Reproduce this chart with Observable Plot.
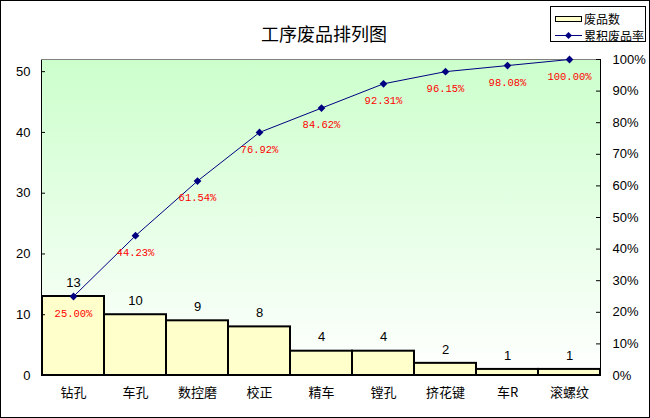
<!DOCTYPE html>
<html><head><meta charset="utf-8">
<script src="https://cdn.jsdelivr.net/npm/d3@7"></script>
<script src="https://cdn.jsdelivr.net/npm/@observablehq/plot@0.6"></script>
<style>
body{margin:0;background:#fff}
#wrap{position:relative;width:650px;height:418px;overflow:hidden;background:#fff}
#border{position:absolute;left:0;top:0;width:650px;height:418px;box-sizing:border-box;border:1px solid #000;pointer-events:none}
#legend{position:absolute;left:550px;top:6px;width:96px;height:36px;box-sizing:border-box;border:1px solid #000;background:#fff;font-family:"Noto Sans CJK SC",sans-serif;font-size:12px;color:#000}
#legend .t{position:absolute;left:33px;height:16px;line-height:16px;white-space:nowrap}
#sw{position:absolute;left:4px;top:9px;width:27px;height:6px;box-sizing:border-box;border:1px solid #000;background:#FFFFCC}
#ln{position:absolute;left:4px;top:28px;width:27px;height:1px;background:#000080}
#dm{position:absolute;left:15px;top:25.5px;width:5px;height:5px;background:#000080;transform:rotate(45deg)}
</style>
</head><body>
<div id="wrap">
  <div id="chart"></div>
  <div id="legend">
    <div id="sw"></div><div class="t" style="top:4px">废品数</div>
    <div id="ln"></div><div id="dm"></div><div class="t" style="top:21px">累积废品率</div>
  </div>
  <div id="border"></div>
</div>
<script>
const title = "工序废品排列图";
const categories = ["钻孔","车孔","数控磨","校正","精车","镗孔","挤花键","车R","滚螺纹"];
const counts = [13,10,9,8,4,4,2,1,1];
const leftTicks = [0,10,20,30,40,50];
const pctTicks = [0,10,20,30,40,50,60,70,80,90,100];

const total = d3.sum(counts);
let run = 0;
const data = categories.map((c,i)=>{ run += counts[i]; return {cat:c, count:counts[i], cum:run, label:(run/total*100).toFixed(2)+"%"}; });
const pctVals = pctTicks.map(p => p/100*total);

function background(index, scales, values, dims) {
  const g = d3.create("svg:g");
  const lg = g.append("defs").append("linearGradient").attr("id","bgGrad")
    .attr("x1",0).attr("y1",0).attr("x2",0).attr("y2",1);
  lg.append("stop").attr("offset","0%").attr("stop-color","#CCFFCC");
  lg.append("stop").attr("offset","100%").attr("stop-color","#FFFFFF");
  g.append("rect").attr("x",dims.marginLeft).attr("y",dims.marginTop)
    .attr("width",dims.width-dims.marginLeft-dims.marginRight)
    .attr("height",dims.height-dims.marginTop-dims.marginBottom)
    .attr("fill","url(#bgGrad)");
  return g.node();
}

const chart = Plot.plot({
  width:650, height:418,
  marginLeft:41, marginRight:50, marginTop:59, marginBottom:43,
  style:{fontFamily:"'Liberation Sans','Noto Sans CJK SC',sans-serif", fontSize:"13px", background:"transparent", color:"#000"},
  x:{domain:categories, padding:0, label:null},
  y:{domain:[0,total], label:null},
  marks:[
    background,
    Plot.barY(data,{x:"cat", y:"count", fill:"#FFFFCC", stroke:"#000", strokeWidth:2}),
    Plot.frame({stroke:"#000"}),
    Plot.ruleY([total],{stroke:"#808080"}),
    Plot.ruleY(leftTicks,{insetRight:555, stroke:"#000"}),
    Plot.ruleY(pctVals,{insetLeft:555, stroke:"#000"}),
    Plot.axisY(leftTicks,{anchor:"left", tickSize:0, tickPadding:11, fontSize:13}),
    Plot.axisY(pctVals,{anchor:"right", tickSize:0, tickPadding:12, fontSize:13, tickFormat:d=>Math.round(d/total*100)+"%"}),
    Plot.axisX({tickSize:0, tickPadding:12, fontSize:13, fontFamily:"'Noto Sans CJK SC',sans-serif"}),
    Plot.line(data,{x:"cat", y:"cum", stroke:"#000080", strokeWidth:1}),
    Plot.dot(data,{x:"cat", y:"cum", symbol:"diamond2", r:3.5, fill:"#000080", stroke:"none"}),
    Plot.text(data,{x:"cat", y:"count", text:d=>String(d.count), dy:-14, fontSize:13}),
    Plot.text(data,{x:"cat", y:"cum", text:"label", dy:17, fill:"#FF0000", fontSize:10.5, fontFamily:"'Liberation Mono',monospace"}),
    Plot.text([title],{frameAnchor:"top", dx:3, dy:-31, fontSize:18, fontFamily:"'Noto Sans CJK SC',sans-serif"})
  ]
});
document.getElementById("chart").appendChild(chart);
</script>
</body></html>
